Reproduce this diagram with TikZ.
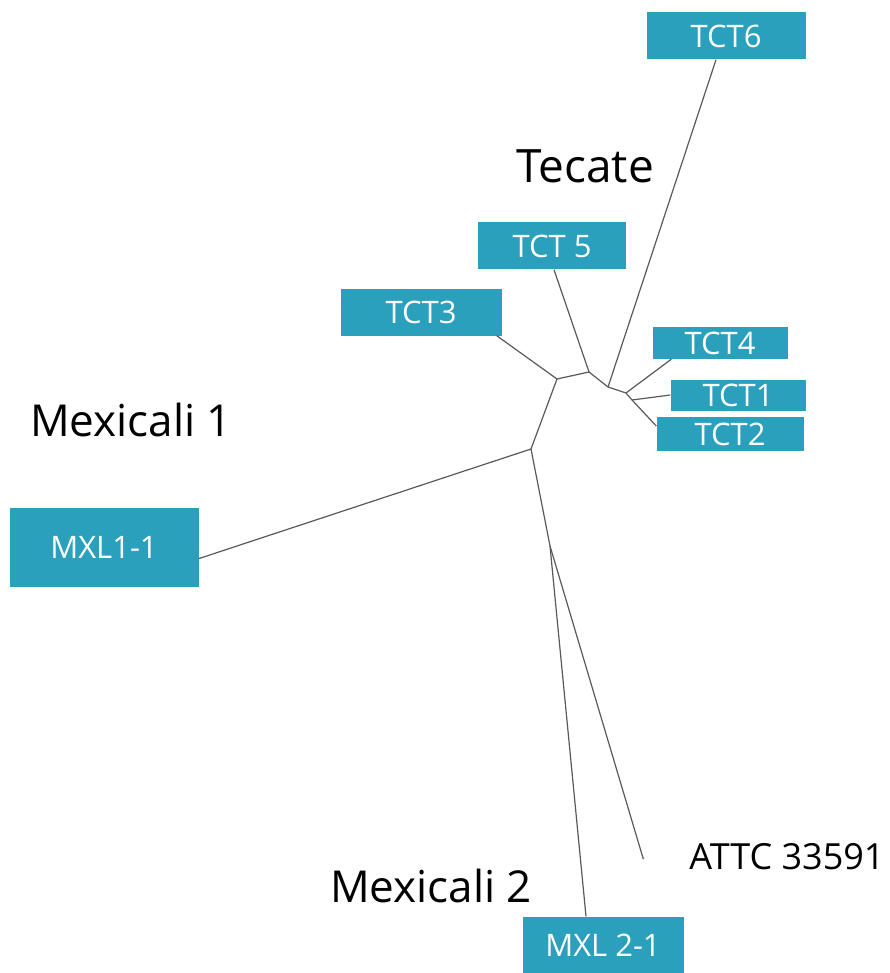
\documentclass[tikz,border=0pt]{standalone}
\usepackage{fontspec}
\setmainfont{Open Sans}
\usetikzlibrary{positioning, calc}
\definecolor{tealbox}{RGB}{42,160,189}

\begin{document}
\begin{tikzpicture}[
  x=1pt, y=-1pt,
  leaf/.style={fill=tealbox, text=white, inner sep=0pt, font=\fontsize{31}{33}\selectfont},
  group/.style={text=black, inner sep=0pt, font=\fontsize{44}{48}\selectfont},
  branch/.style={draw=black!65, line width=1.2pt}
]
\useasboundingbox (0,0) rectangle (890,973);

% strain boxes
\node[leaf, minimum width=159pt, minimum height=47pt] (tct6) at (726,36) {TCT6};
\node[leaf, minimum width=148pt, minimum height=47pt] (tct5) at (552,246) {TCT 5};
\node[leaf, minimum width=161pt, minimum height=47pt] (tct3) at (421,312) {TCT3};
\node[leaf, minimum width=135pt, minimum height=32pt] (tct4) at (720,343) {TCT4};
\node[leaf, minimum width=135pt, minimum height=31pt] (tct1) at (738,395) {TCT1};
\node[leaf, minimum width=147pt, minimum height=34pt] (tct2) at (730,434) {TCT2};
\node[leaf, minimum width=189pt, minimum height=79pt] (mxl1) at (104,547) {MXL1-1};
\node[leaf, minimum width=161pt, minimum height=57pt] (mxl2) at (603,945) {MXL 2-1};

% group labels
\node[group, font=\fontsize{46}{50}\selectfont] (tecate) at (585,166) {Tecate};
\node[group] (mexicaliA) at (131,420) {Mexicali 1};
\node[group] (mexicaliB) at (431,886) {Mexicali 2};
\node[group, font=\fontsize{36}{40}\selectfont] (attc) at (787,857) {ATTC 33591};

% inner branch points
\coordinate (nA) at (557,379);
\coordinate (nB) at (589,372);
\coordinate (nC) at (608,387);
\coordinate (nD) at (626,393);
\coordinate (nE) at (632,400);
\coordinate (nF) at (531,449);
\coordinate (nG) at (550,546);
\coordinate (attcTip) at (643,858);

\draw[branch] (nF) -- (nA) -- (nB) -- (nC) -- (nD) -- (nE);
\draw[branch] (nA) -- ($(tct3.south east)+(-5,0)$);
\draw[branch] (nB) -- ($(tct5.south)+(2,0)$);
\draw[branch] (nC) -- ($(tct6.south)+(-10,0)$);
\draw[branch] (nD) -- ($(tct4.south west)+(19,0)$);
\draw[branch] (nE) -- (tct1.west);
\draw[branch] (nE) -- ($(tct2.west)+(0,-8)$);
\draw[branch] (nF) -- (mxl1.-7);
\draw[branch] (nF) -- (nG);
\draw[branch] (nG) -- ($(mxl2.north)+(-17,0)$);
\draw[branch] (nG) -- (attcTip);
\fill[black!45] (attcTip) circle (1.5pt);
\end{tikzpicture}
\end{document}
